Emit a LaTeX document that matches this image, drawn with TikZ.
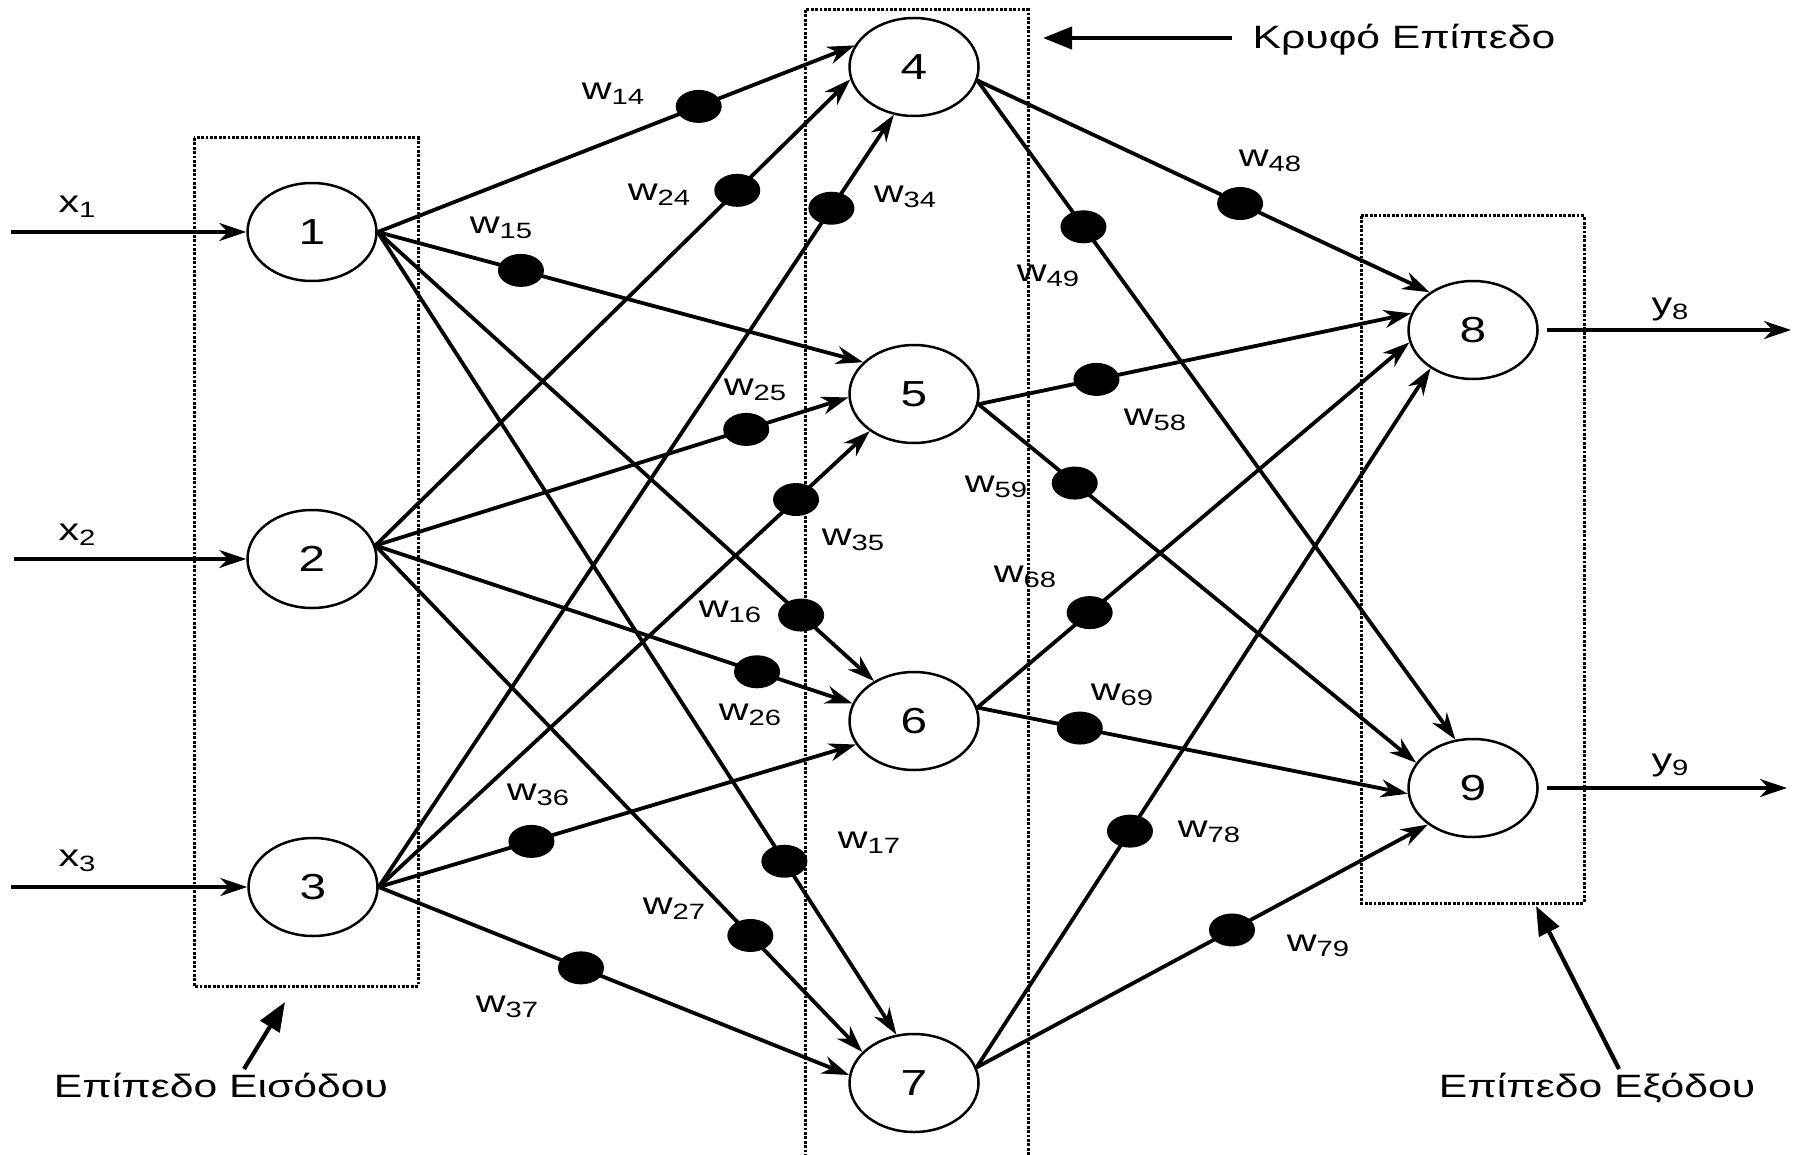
\documentclass[tikz,border=0pt]{standalone}
\usepackage{fontspec}
\setmainfont{Liberation Sans}
\usepackage{graphicx}
\usetikzlibrary{arrows.meta,shapes.geometric}
\newcommand{\hstretch}[1]{\scalebox{1.32}[1]{#1}}
\newcommand{\wlab}[2]{\hstretch{#1\raisebox{-0.5mm}{\fontsize{6.3}{7}\selectfont #2}}}
\begin{document}
\begin{tikzpicture}[x=0.1mm,y=-0.1mm,
  neuron/.style={draw, line width=0.25mm, ellipse, minimum width=12.9mm, minimum height=9.8mm, inner sep=0pt, fill=white, font=\fontsize{10.3}{12}\selectfont},
  edge/.style={line width=0.38mm, -{Stealth[length=2.7mm,width=1.8mm,inset=0.85mm]}},
  wdot/.style={fill=black, draw=none, ellipse, minimum width=4.6mm, minimum height=3.3mm, inner sep=0pt},
  layerbox/.style={line width=0.3mm, dash pattern=on 0.28mm off 0.16mm},
  lbl/.style={inner sep=0pt, font=\fontsize{8.9}{10}\selectfont},
  biglbl/.style={inner sep=0pt, anchor=base, font=\fontsize{9.2}{11}\selectfont},
  bigarrow/.style={line width=0.42mm, -{Triangle[length=2.9mm,width=2.2mm]}}]
\fill[white] (0,0) rectangle (1798,1154);
\useasboundingbox (0,0) rectangle (1798,1154);

% layer boxes
\draw[layerbox] (194,138) rectangle (418,986);
\draw[layerbox] (805,10) rectangle (1028,1175);
\draw[layerbox] (1361,216) rectangle (1584,903);

% neurons
\node[neuron] (n1) at (312,232) {\hstretch{1}};
\node[neuron] (n2) at (312,559) {\hstretch{2}};
\node[neuron] (n3) at (313,887) {\hstretch{3}};
\node[neuron] (n4) at (914,67) {\hstretch{4}};
\node[neuron] (n5) at (914,394) {\hstretch{5}};
\node[neuron] (n6) at (914,721) {\hstretch{6}};
\node[neuron] (n7) at (914,1083) {\hstretch{7}};
\node[neuron] (n8) at (1473,330) {\hstretch{8}};
\node[neuron] (n9) at (1473,788) {\hstretch{9}};

% inputs and outputs
\coordinate (i1) at (11,232);
\coordinate (i2) at (14,559);
\coordinate (i3) at (11,887);
\coordinate (o8) at (1791,330);
\coordinate (o9) at (1787,788);
\draw[edge] (i1) -- (n1.west);
\draw[edge] (i2) -- (n2.west);
\draw[edge] (i3) -- (n3.west);
\draw[edge] (n8.east) ++(8,0) coordinate (s8) (s8) -- (o8);
\draw[edge] (n9.east) ++(8,0) coordinate (s9) (s9) -- (o9);
\node[lbl] (lx1) at (77,207) {\wlab{x}{1}};
\node[lbl] (lx2) at (77,535) {\wlab{x}{2}};
\node[lbl] (lx3) at (77,861) {\wlab{x}{3}};
\node[lbl] (ly8) at (1670,309) {\wlab{y}{8}};
\node[lbl] (ly9) at (1670,765) {\wlab{y}{9}};

% input -> hidden
\draw[edge] (n1.east) -- node[wdot,pos=0.673] (d14) {} (n4.160);
\draw[edge] (n2.12) -- node[wdot,pos=0.762] (d24) {} (n4.191);
\draw[edge] (n3.east) -- node[wdot,pos=0.879] (d34) {} (n4.247);
\draw[edge] (n1.east) -- node[wdot,pos=0.295] (d15) {} (n5.148);
\draw[edge] (n2.12) -- node[wdot,pos=0.784] (d25) {} (n5.183);
\draw[edge] (n3.east) -- node[wdot,pos=0.85] (d35) {} (n5.220);
\draw[edge] (n1.east) -- node[wdot,pos=0.853] (d16) {} (n6.135);
\draw[edge] (n2.12) -- node[wdot,pos=0.80] (d26) {} (n6.164);
\draw[edge] (n3.east) -- node[wdot,pos=0.32] (d36) {} (n6.202);
\draw[edge] (n1.east) -- node[wdot,pos=0.784] (d17) {} (n7.110);
\draw[edge] (n2.12) -- node[wdot,pos=0.77] (d27) {} (n7.149);
\draw[edge] (n3.east) -- node[wdot,pos=0.43] (d37) {} (n7.173);

% hidden -> output
\draw[edge] (n4.-12) -- node[wdot,pos=0.581] (d48) {} (n8.139);
\draw[edge] (n4.-12) -- node[wdot,pos=0.222] (d49) {} (n9.110);
\draw[edge] (n5.-9) -- node[wdot,pos=0.273] (d58) {} (n8.165);
\draw[edge] (n5.-9) -- node[wdot,pos=0.22] (d59) {} (n9.156);
\draw[edge] (n6.12) -- node[wdot,pos=0.26] (d68) {} (n8.191);
\draw[edge] (n6.12) -- node[wdot,pos=0.238] (d69) {} (n9.185);
\draw[edge] (n7.14) -- node[wdot,pos=0.338] (d78) {} (n8.222);
\draw[edge] (n7.14) -- node[wdot,pos=0.566] (d79) {} (n9.219);

% weight labels
\node[lbl] (w14) at (613,94) {\wlab{w}{14}};
\node[lbl] (w24) at (659,195) {\wlab{w}{24}};
\node[lbl] (w34) at (905,197) {\wlab{w}{34}};
\node[lbl] (w15) at (501,228) {\wlab{w}{15}};
\node[lbl] (w25) at (755,390) {\wlab{w}{25}};
\node[lbl] (w35) at (853,540) {\wlab{w}{35}};
\node[lbl] (w16) at (730,612) {\wlab{w}{16}};
\node[lbl] (w26) at (750,715) {\wlab{w}{26}};
\node[lbl] (w36) at (538,795) {\wlab{w}{36}};
\node[lbl] (w17) at (869,843) {\wlab{w}{17}};
\node[lbl] (w27) at (674,909) {\wlab{w}{27}};
\node[lbl] (w37) at (507,1007) {\wlab{w}{37}};
\node[lbl] (w48) at (1270,161) {\wlab{w}{48}};
\node[lbl] (w49) at (1048,276) {\wlab{w}{49}};
\node[lbl] (w58) at (1155,420) {\wlab{w}{58}};
\node[lbl] (w59) at (996,487) {\wlab{w}{59}};
\node[lbl] (w68) at (1025,577) {\wlab{w}{68}};
\node[lbl] (w69) at (1122,695) {\wlab{w}{69}};
\node[lbl] (w78) at (1209,832) {\wlab{w}{78}};
\node[lbl] (w79) at (1318,946) {\wlab{w}{79}};

% layer labels
\node[biglbl] (lh) at (1404,49) {\hstretch{Κρυφό Επίπεδο}};
\node[biglbl] (li) at (221,1097) {\hstretch{Επίπεδο Εισόδου}};
\node[biglbl] (lo) at (1597,1097) {\hstretch{Επίπεδο Εξόδου}};
\coordinate (ah0) at (1232,38);
\coordinate (ah1) at (1043,38);
\coordinate (ai0) at (244,1069);
\coordinate (ai1) at (285,1002);
\coordinate (ao0) at (1619,1069);
\coordinate (ao1) at (1536,906);
\draw[bigarrow] (ah0) -- (ah1);
\draw[bigarrow] (ai0) -- (ai1);
\draw[bigarrow] (ao0) -- (ao1);
\end{tikzpicture}
\end{document}
